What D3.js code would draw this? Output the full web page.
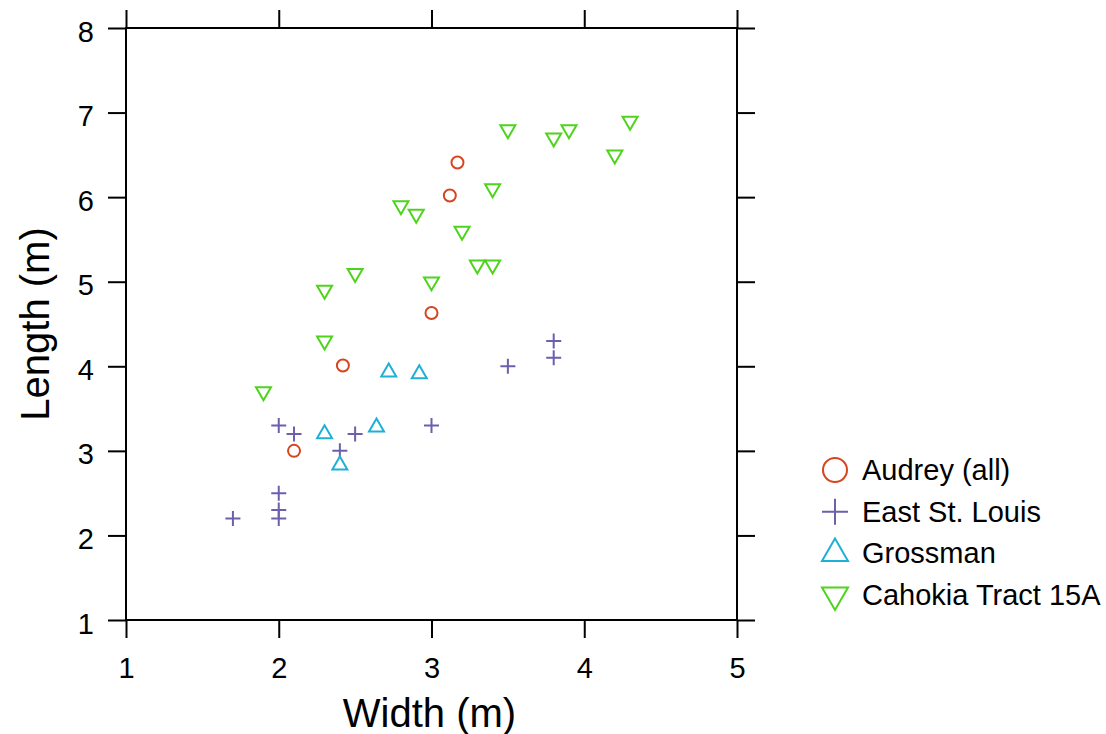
<!DOCTYPE html>
<html lang="en">
<head>
<meta charset="UTF-8">
<title>Width vs Length</title>
<script src="https://d3js.org/d3.v7.min.js"></script>
<style>
  body { margin: 0; background: #fff; }
  text { font-family: "Liberation Sans", Arial, sans-serif; }
</style>
</head>
<body>
<script>
// data: [width, length] in metres
const audrey = [[2.1, 3.0], [2.42, 4.01], [3.0, 4.63], [3.12, 6.02], [3.17, 6.41]];
const eastStLouis = [[1.7, 2.2], [2.0, 2.5], [2.0, 2.3], [2.0, 2.2], [2.0, 3.3], [2.1, 3.2],
                     [2.4, 3.0], [2.5, 3.2], [3.0, 3.3], [3.5, 4.0], [3.8, 4.3], [3.8, 4.1]];
const grossman = [[2.3, 3.2], [2.4, 2.83], [2.64, 3.28], [2.72, 3.93], [2.92, 3.91]];
const cahokia = [[1.9, 3.7], [2.3, 4.3], [2.3, 4.9], [2.5, 5.1], [2.8, 5.9], [2.9, 5.8],
                 [3.0, 5.0], [3.2, 5.6], [3.3, 5.2], [3.4, 5.2], [3.4, 6.1], [3.5, 6.8],
                 [3.8, 6.7], [3.9, 6.8], [4.2, 6.5], [4.3, 6.9]];

const seriesNames = ["Audrey (all)", "East St. Louis", "Grossman", "Cahokia Tract 15A"];
const seriesData = [audrey, eastStLouis, grossman, cahokia];
const seriesShapes = ["circle", "plus", "up", "down"];
const seriesColors = ["#d6451f", "#6a60ae", "#1fb0d6", "#4ed41c"];

const xTicks = [1, 2, 3, 4, 5];
const yTicks = [1, 2, 3, 4, 5, 6, 7, 8];

const W = 1106, H = 734;
const svg = d3.select("body").append("svg").attr("width", W).attr("height", H);

const x = d3.scaleLinear().domain([1, 5]).range([126, 737]);
const y = d3.scaleLinear().domain([1, 8]).range([620, 28]);

// shape paths centred on 0,0, r = half size
function shapePath(kind, r) {
    if (kind == "circle") {
        const p = d3.path();
        p.arc(0, 0, r, 0, 2 * Math.PI);
        return p.toString();
    }
    if (kind == "plus") {
        return `M${-r},0H${r}M0,${-r}V${r}`;
    }
    const h = r * Math.sqrt(3); // equilateral triangle height
    if (kind == "up") {
        return `M0,${-h * 2 / 3}L${r},${h / 3}L${-r},${h / 3}Z`;
    }
    return `M0,${h * 2 / 3}L${r},${-h / 3}L${-r},${-h / 3}Z`;
}

// axes with ticks on all four sides
const tick = 18;
function styleAxis(g) {
    g.select(".domain").remove();
    g.attr("font-family", null);
    g.selectAll(".tick line").attr("stroke", "#000").attr("stroke-width", 2);
    g.selectAll(".tick text").attr("font-size", 29).attr("fill", "#000");
}
svg.append("g").attr("transform", "translate(0,620)")
    .call(d3.axisBottom(x).tickValues(xTicks).tickSize(tick).tickPadding(19).tickFormat(d3.format("d")))
    .call(styleAxis);
svg.append("g").attr("transform", "translate(0,28)")
    .call(d3.axisTop(x).tickValues(xTicks).tickSize(tick).tickFormat(""))
    .call(styleAxis);
svg.append("g").attr("transform", "translate(126,0)")
    .call(d3.axisLeft(y).tickValues(yTicks).tickSize(tick).tickPadding(14).tickFormat(d3.format("d")))
    .call(styleAxis)
    .selectAll(".tick text").attr("dy", "0.45em");
svg.append("g").attr("transform", "translate(737,0)")
    .call(d3.axisRight(y).tickValues(yTicks).tickSize(tick).tickFormat(""))
    .call(styleAxis);

svg.append("rect")
    .attr("x", x(1)).attr("y", y(8))
    .attr("width", x(5) - x(1)).attr("height", y(1) - y(8))
    .attr("fill", "none").attr("stroke", "#000").attr("stroke-width", 2);

// axis titles
svg.append("text")
    .attr("x", (x(1) + x(5)) / 2 - 2).attr("y", 727)
    .attr("text-anchor", "middle").attr("font-size", 40)
    .text("Width (m)");
svg.append("text")
    .attr("transform", `translate(49,${(y(1) + y(8)) / 2}) rotate(-90)`)
    .attr("text-anchor", "middle").attr("font-size", 40)
    .text("Length (m)");

// points
seriesData.forEach((pts, i) => {
    svg.append("g").selectAll("path")
        .data(pts)
        .join("path")
        .attr("transform", d => `translate(${x(d[0])},${y(d[1])})`)
        .attr("d", shapePath(seriesShapes[i], seriesShapes[i] == "circle" ? 6 : 7.5))
        .attr("fill", "none")
        .attr("stroke", seriesColors[i])
        .attr("stroke-width", 2);
});

// legend
const legend = svg.append("g").attr("transform", "translate(835,470)");
seriesNames.forEach((name, i) => {
    const row = legend.append("g").attr("transform", `translate(0,${i * 41.7})`);
    row.append("path")
        .attr("d", shapePath(seriesShapes[i], seriesShapes[i] == "circle" ? 12 : 13))
        .attr("fill", "none")
        .attr("stroke", seriesColors[i])
        .attr("stroke-width", 2);
    row.append("text")
        .attr("x", 27).attr("y", 10)
        .attr("font-size", 29)
        .text(name);
});
</script>
</body>
</html>
